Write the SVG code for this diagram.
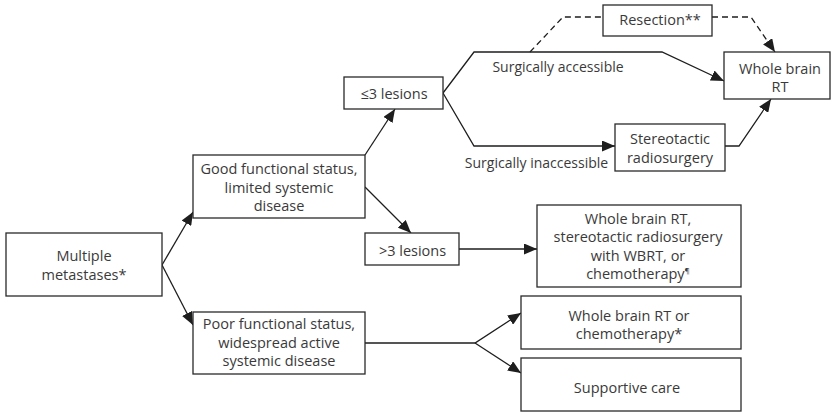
<svg xmlns="http://www.w3.org/2000/svg" width="832" height="412" viewBox="0 0 832 412">
<defs>
<style>
.box{fill:#fff;stroke:#2a2a2a;stroke-width:1.3}
.t{font-family:"Open Sans","Noto Sans","Liberation Sans",sans-serif;font-size:14.5px;fill:#3a3a3a;text-anchor:middle}
.lbl{font-size:14px}
.ln{fill:none;stroke:#1e1e1e;stroke-width:1.3}
.dash{stroke-dasharray:6 4}
</style>
<marker id="ah" markerUnits="userSpaceOnUse" markerWidth="13" markerHeight="11" refX="13" refY="5.5" orient="auto">
<path d="M0,0 L13,5.5 L0,11 z" fill="#1e1e1e"/>
</marker>
</defs>
<rect width="832" height="412" fill="#fff"/>
<g id="connectors">
<path class="ln" d="M162,265 L193,212" marker-end="url(#ah)"/>
<path class="ln" d="M162,265 L193,325" marker-end="url(#ah)"/>
<path class="ln" d="M365,155 L395,109" marker-end="url(#ah)"/>
<path class="ln" d="M365,187 L411,233" marker-end="url(#ah)"/>
<path class="ln" d="M443,93 L474,52 L662,52 L724,81" marker-end="url(#ah)"/>
<path class="ln" d="M443,93 L474,146 L615,146" marker-end="url(#ah)"/>
<path class="ln" d="M725,146 L739,146 L771,99" marker-end="url(#ah)"/>
<path class="ln dash" d="M530,52 L563,17 L603,17"/>
<path class="ln dash" d="M712,17 L751,17 L775,52" marker-end="url(#ah)"/>
<path class="ln" d="M459,249 L537,249" marker-end="url(#ah)"/>
<path class="ln" d="M365,343 L475,343 L521,313" marker-end="url(#ah)"/>
<path class="ln" d="M475,343 L521,373" marker-end="url(#ah)"/>
<text class="t lbl" x="558" y="72">Surgically accessible</text>
<text class="t lbl" x="536.5" y="168">Surgically inaccessible</text>
</g>
<g id="multiple">
<rect class="box" x="6" y="233" width="156" height="63"/>
<text class="t" x="84" y="261">Multiple</text>
<text class="t" x="84" y="280">metastases*</text>
</g>
<g id="good">
<rect class="box" x="193" y="155" width="172" height="63"/>
<text class="t" x="279" y="174">Good functional status,</text>
<text class="t" x="279" y="192.5">limited systemic</text>
<text class="t" x="279" y="211">disease</text>
</g>
<g id="poor">
<rect class="box" x="193" y="312" width="172" height="62"/>
<text class="t" x="279" y="329">Poor functional status,</text>
<text class="t" x="279" y="347.5">widespread active</text>
<text class="t" x="279" y="366">systemic disease</text>
</g>
<g id="le3">
<rect class="box" x="344" y="77" width="99" height="32"/>
<text class="t" x="394" y="99">≤3 lesions</text>
</g>
<g id="gt3">
<rect class="box" x="365" y="233" width="94" height="32"/>
<text class="t" x="412.5" y="256">&gt;3 lesions</text>
</g>
<g id="resection">
<rect class="box" x="603" y="5" width="109" height="31"/>
<text class="t" x="660" y="25">Resection**</text>
</g>
<g id="wbrt">
<rect class="box" x="724" y="52" width="106" height="47"/>
<text class="t" x="780" y="73.5">Whole brain</text>
<text class="t" x="780" y="91.5">RT</text>
</g>
<g id="srs">
<rect class="box" x="615" y="124" width="110" height="47"/>
<text class="t" x="670" y="144">Stereotactic</text>
<text class="t" x="670" y="163">radiosurgery</text>
</g>
<g id="options">
<rect class="box" x="537" y="205" width="204" height="82"/>
<text class="t" x="638" y="223.5">Whole brain RT,</text>
<text class="t" x="638" y="242">stereotactic radiosurgery</text>
<text class="t" x="638" y="260.5">with WBRT, or</text>
<text class="t" x="638" y="279">chemotherapy<tspan font-size="8" dy="-6">¶</tspan></text>
</g>
<g id="wbrt-chemo">
<rect class="box" x="521" y="296" width="220" height="53"/>
<text class="t" x="629" y="321">Whole brain RT or</text>
<text class="t" x="629" y="339">chemotherapy*</text>
</g>
<g id="supportive">
<rect class="box" x="521" y="358" width="220" height="53"/>
<text class="t" x="627" y="393">Supportive care</text>
</g>
</svg>
